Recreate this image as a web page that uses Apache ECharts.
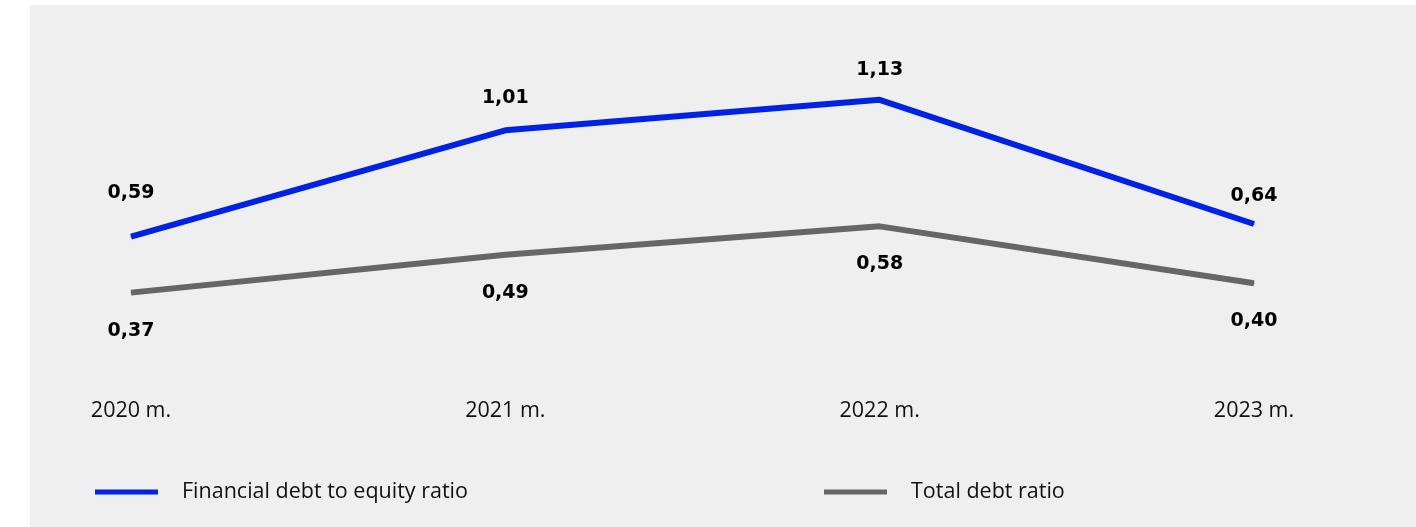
<!DOCTYPE html>
<html>
<head>
<meta charset="utf-8">
<script src="https://cdn.jsdelivr.net/npm/echarts@6/dist/echarts.min.js"></script>
<style>
html,body{margin:0;padding:0;background:#fff;}
#c{width:1416px;height:527px;}
</style>
</head>
<body>
<div id="c"></div>
<script>
const categories = ['2020 m.', '2021 m.', '2022 m.', '2023 m.'];
const financialDebtToEquity = [0.59, 1.01, 1.13, 0.64];
const totalDebtRatio = [0.37, 0.49, 0.58, 0.40];
const seriesNames = ['Financial debt to equity ratio', 'Total debt ratio'];

const blueLabelDist = [34, 22, 20, 18];
const fmt = v => v.toFixed(2).replace('.', ',');
const labelFont = { fontFamily: 'DejaVu Sans', fontWeight: 'bold', fontSize: 19, color: '#000' };
const textFont = { fontFamily: 'Open Sans', fontSize: 21.5, color: '#111' };

const chart = echarts.init(document.getElementById('c'), null, { renderer: 'canvas' });
chart.setOption({
  backgroundColor: '#ffffff',
  animation: false,
  graphic: [{
    type: 'rect', z: -10, silent: true,
    shape: { x: 30, y: 5, width: 1386, height: 522 },
    style: { fill: '#efefef' }
  }],
  grid: { left: 131, right: 162, top: 60, bottom: 127 },
  legend: [
    {
      data: [seriesNames[0]], left: 95, top: 481, padding: 0, icon: 'rect',
      itemWidth: 63, itemHeight: 5,
      textStyle: Object.assign({ padding: [6, 0, 0, 19] }, textFont)
    },
    {
      data: [seriesNames[1]], left: 824, top: 481, padding: 0, icon: 'rect',
      itemWidth: 63, itemHeight: 5,
      textStyle: Object.assign({ padding: [6, 0, 0, 19] }, textFont)
    }
  ],
  xAxis: {
    type: 'category', data: categories, boundaryGap: false,
    axisLine: { show: false }, axisTick: { show: false }, splitLine: { show: false },
    axisLabel: Object.assign({ margin: 0 }, textFont)
  },
  yAxis: [
    { type: 'value', min: -0.0545, max: 1.2873, show: false, splitLine: { show: false } },
    { type: 'value', min: 0.0298, max: 1.1071, show: false, splitLine: { show: false } }
  ],
  series: [
    {
      name: seriesNames[0], type: 'line', yAxisIndex: 0,
      data: financialDebtToEquity.map((v, i) => ({ value: v, label: { distance: blueLabelDist[i] } })),
      symbol: 'circle', symbolSize: 1,
      lineStyle: { color: '#0022e6', width: 6 },
      itemStyle: { color: '#0022e6' },
      label: Object.assign({ show: true, position: 'top', formatter: p => fmt(p.value) }, labelFont)
    },
    {
      name: seriesNames[1], type: 'line', yAxisIndex: 1,
      data: totalDebtRatio,
      symbol: 'circle', symbolSize: 1,
      lineStyle: { color: '#666666', width: 6 },
      itemStyle: { color: '#666666' },
      label: Object.assign({ show: true, position: 'bottom', distance: 28, formatter: p => fmt(p.value) }, labelFont)
    }
  ]
});
</script>
</body>
</html>
